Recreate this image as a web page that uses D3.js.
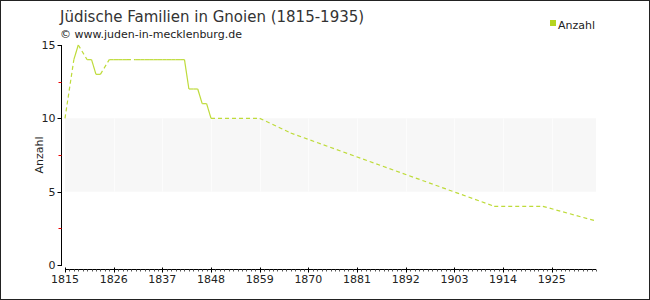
<!DOCTYPE html>
<html>
<head>
<meta charset="utf-8">
<script src="https://cdn.jsdelivr.net/npm/d3@7"></script>
<style>
  body { margin: 0; background: #fff; }
  text { font-family: "DejaVu Sans", Verdana, sans-serif; fill: #222; }
</style>
</head>
<body>
<div id="chart"></div>
<script>
// data
var years  = [1815, 1817, 1818, 1820, 1821, 1822, 1823, 1825, 1826, 1827, 1828, 1829,
              1831, 1832, 1833, 1834, 1835, 1836, 1837, 1838, 1839, 1840, 1841, 1842,
              1843, 1844, 1845, 1846, 1847, 1848, 1859, 1866, 1912, 1923, 1935];
var values = [10, 14, 15, 14, 14, 13, 13, 14, 14, 14, 14, 14,
              14, 14, 14, 14, 14, 14, 14, 14, 14, 14, 14, 14,
              12, 12, 12, 11, 11, 10, 10, 9, 4, 4, 3];
var xTicks = [1815, 1826, 1837, 1848, 1859, 1870, 1881, 1892, 1903, 1914, 1925];
var yTicks = [0, 5, 10, 15];
var yMinor = [2.5, 7.5, 12.5];
var band = [5, 10];
var seriesName = "Anzahl";

var W = 650, H = 300;
var lineColor = "#bedb3a";

var svg = d3.select("#chart").append("svg")
    .attr("width", W)
    .attr("height", H);

// frame
svg.append("rect")
    .attr("x", 0.5).attr("y", 0.5)
    .attr("width", W - 1).attr("height", H - 1)
    .attr("fill", "#fff")
    .attr("stroke", "#222");

var x = d3.scaleLinear().domain([1815, 1935]).range([65, 596]);
var y = d3.scaleLinear().domain([0, 15]).range([265, 45]);

// shaded band between 5 and 10
svg.append("rect")
    .attr("x", x(1815))
    .attr("y", y(band[1]))
    .attr("width", x(1935) - x(1815))
    .attr("height", y(band[0]) - y(band[1]))
    .attr("fill", "#f7f7f7");

svg.append("g").selectAll("line")
    .data(xTicks.slice(1))
    .enter().append("line")
    .attr("x1", function (d) { return Math.round(x(d)) + 0.5; })
    .attr("x2", function (d) { return Math.round(x(d)) + 0.5; })
    .attr("y1", y(band[1]))
    .attr("y2", y(band[0]))
    .attr("stroke", "#fcfcfc");

// y axis
var yAxis = svg.append("g").attr("transform", "translate(61.5,0)");
yAxis.append("line")
    .attr("y1", y(15)).attr("y2", y(0) + 1)
    .attr("stroke", "#000");
yAxis.selectAll(".maj")
    .data(yTicks)
    .enter().append("line")
    .attr("x1", -4).attr("x2", 0)
    .attr("y1", function (d) { return Math.round(y(d)) + 0.5; })
    .attr("y2", function (d) { return Math.round(y(d)) + 0.5; })
    .attr("stroke", "#000");
yAxis.selectAll(".minor")
    .data(yMinor)
    .enter().append("line")
    .attr("x1", -3).attr("x2", 0)
    .attr("y1", function (d) { return Math.round(y(d)) + 0.5; })
    .attr("y2", function (d) { return Math.round(y(d)) + 0.5; })
    .attr("stroke", "#e00");
yAxis.selectAll("text")
    .data(yTicks)
    .enter().append("text")
    .attr("x", -6)
    .attr("y", function (d) { return y(d) + 4; })
    .attr("text-anchor", "end")
    .style("font-size", "11px")
    .text(function (d) { return d; });

svg.append("text")
    .attr("transform", "translate(43," + y(7.5) + ") rotate(-90)")
    .attr("text-anchor", "middle")
    .style("font-size", "11px")
    .text(seriesName);

// x axis
var xAxis = svg.append("g").attr("transform", "translate(0,269.5)");
xAxis.append("line")
    .attr("x1", x(1815)).attr("x2", x(1935))
    .attr("stroke", "#000");
xAxis.selectAll(".minor")
    .data(d3.range(1815, 1936))
    .enter().append("line")
    .attr("x1", function (d) { return Math.round(x(d)) + 0.5; })
    .attr("x2", function (d) { return Math.round(x(d)) + 0.5; })
    .attr("y1", 0).attr("y2", 2)
    .attr("stroke", "#555");
xAxis.selectAll(".maj")
    .data(xTicks)
    .enter().append("line")
    .attr("x1", function (d) { return Math.round(x(d)) + 0.5; })
    .attr("x2", function (d) { return Math.round(x(d)) + 0.5; })
    .attr("y1", -2).attr("y2", 3)
    .attr("stroke", "#000");
xAxis.selectAll("text")
    .data(xTicks)
    .enter().append("text")
    .attr("x", function (d) { return x(d); })
    .attr("y", 13)
    .attr("text-anchor", "middle")
    .style("font-size", "11px")
    .text(function (d) { return d; });

// line: solid between consecutive years, dashed across gaps
var pts = years.map(function (yr, i) { return [yr, values[i]]; });
var line = d3.line()
    .x(function (d) { return x(d[0]); })
    .y(function (d) { return y(d[1]); });

for (var i = 0; i < pts.length - 1; i++) {
    var gap = pts[i + 1][0] - pts[i][0] > 1;
    svg.append("path")
        .attr("d", line([pts[i], pts[i + 1]]))
        .attr("fill", "none")
        .attr("stroke", lineColor)
        .attr("stroke-width", 1.2)
        .attr("stroke-dasharray", gap ? "4,3" : null);
}

// title
svg.append("text")
    .attr("x", 60).attr("y", 22)
    .style("font-size", "15px")
    .style("fill", "#333")
    .text("Jüdische Familien in Gnoien (1815-1935)");

svg.append("text")
    .attr("x", 60).attr("y", 38)
    .style("font-size", "11px")
    .text("© www.juden-in-mecklenburg.de");

// legend
svg.append("rect")
    .attr("x", 550).attr("y", 20)
    .attr("width", 6).attr("height", 6)
    .attr("fill", "#b5d41e");
svg.append("text")
    .attr("x", 558).attr("y", 29)
    .style("font-size", "11px")
    .text(seriesName);
</script>
</body>
</html>
